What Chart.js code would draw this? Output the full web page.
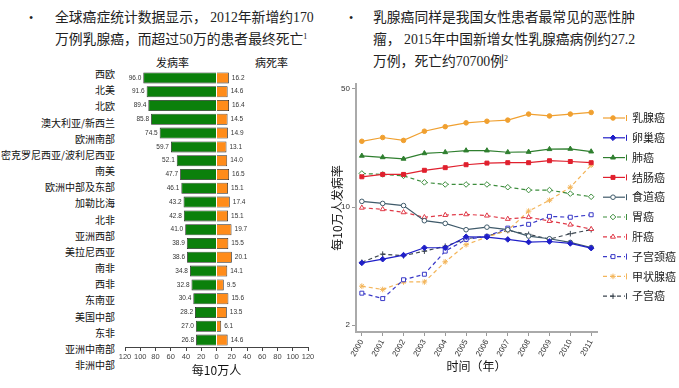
<!DOCTYPE html>
<html>
<head>
<meta charset="utf-8">
<script src="https://cdn.jsdelivr.net/npm/chart.js@4.4.0/dist/chart.umd.min.js"></script>
<style>
    body { margin: 0; background: #fff; width: 679px; height: 388px; overflow: hidden; position: relative;
           font-family: "Liberation Serif", "Noto Sans CJK SC", serif; color: #222; }
    .txt { position: absolute; font-size: 13.8px; line-height: 22px; white-space: nowrap; }
    .bullet { position: absolute; font-size: 12px; line-height: 22px; }
    sup { font-size: 8px; vertical-align: 5px; line-height: 0; }
    .region { position: absolute; right: 564px; font-family: "Noto Sans CJK SC", sans-serif; font-size: 10px;
              line-height: 12px; white-space: nowrap; color: #111; }
    .head { position: absolute; font-family: "Noto Sans CJK SC", sans-serif; font-size: 11px; line-height: 12px; color: #111; }
    .box { position: absolute; }
</style>
</head>
<body>
<div class="bullet" style="left:29px;top:7px;">•</div>
<div class="txt" style="left:55px;top:7px;">全球癌症统计数据显示， 2012年新增约170<br>万例乳腺癌，而超过50万的患者最终死亡<sup>1</sup></div>
<div class="bullet" style="left:349px;top:7px;">•</div>
<div class="txt" style="left:373px;top:7px;">乳腺癌同样是我国女性患者最常见的恶性肿<br>瘤， 2015年中国新增女性乳腺癌病例约27.2<br>万例，死亡约70700例<sup>2</sup></div>

<div class="head" style="left:156px;top:56px;">发病率</div>
<div class="head" style="left:255px;top:56px;">病死率</div>
<div id="regionCol"></div>

<div class="box" style="left:115px;top:66px;width:205px;height:316px;"><canvas id="barChart"></canvas></div>
<div class="box" style="left:320px;top:75px;width:359px;height:313px;"><canvas id="lineChart"></canvas></div>

<script>
// Left panel: incidence / mortality per 100k by region
const regions = ['西欧', '北美', '北欧', '澳大利亚/新西兰', '欧洲南部', '密克罗尼西亚/波利尼西亚', '南美',
    '欧洲中部及东部', '加勒比海', '北非', '亚洲西部', '美拉尼西亚', '南非', '西非', '东南亚', '美国中部',
    '东非', '亚洲中南部', '非洲中部'];
const incidence = [96.0, 91.6, 89.4, 85.8, 74.5, 59.7, 52.1, 47.7, 46.1, 43.2, 42.8, 41.0, 38.9, 38.6,
    34.8, 32.8, 30.4, 28.2, 27.0, 26.8];
const mortality = [16.2, 14.6, 16.4, 14.5, 14.9, 13.1, 14.0, 16.5, 15.1, 17.4, 15.1, 19.7, 15.5, 20.1,
    14.1, 9.5, 15.6, 13.5, 6.1, 14.6];
const barTicks = [-120, -100, -80, -60, -40, -20, 0, 20, 40, 60, 80, 100, 120];

// Right panel: incidence trend in China (log scale)
const years = [2000, 2001, 2002, 2003, 2004, 2005, 2006, 2007, 2008, 2009, 2010, 2011];
const logTicks = [2, 10, 50];
const breast = [24.5, 25.8, 24.8, 28.1, 29.9, 31.5, 32.2, 32.7, 35.5, 34.6, 35.5, 36.3];
const ovarian = [4.67, 4.91, 5.19, 5.74, 5.74, 6.67, 6.64, 6.43, 6.2, 6.25, 6.09, 5.71];
const lung = [20.1, 19.7, 19.3, 20.8, 21.1, 21.6, 21.6, 21.1, 21.2, 22.0, 22.1, 21.3];
const colorectal = [15.1, 15.6, 15.6, 16.5, 17.1, 17.8, 18.2, 18.3, 18.3, 18.8, 18.6, 18.3];
const esophageal = [10.8, 10.5, 10.2, 8.3, 8.0, 7.34, 7.6, 7.34, 6.73, 6.49, 6.17, 5.76];
const stomach = [15.8, 15.6, 15.3, 14.0, 13.6, 13.6, 13.6, 13.1, 12.6, 12.6, 12.0, 11.5];
const liver = [9.9, 9.7, 9.3, 8.7, 8.96, 9.05, 8.89, 8.5, 8.7, 8.26, 7.86, 7.4];
const cervical = [3.09, 2.87, 3.71, 4.0, 5.48, 6.43, 6.7, 7.5, 7.9, 8.8, 8.7, 9.0];
const thyroid = [3.4, 3.25, 3.6, 3.6, 4.74, 5.98, 6.64, 7.27, 9.46, 10.96, 13.1, 17.7];
const uterine = [4.71, 5.26, 5.15, 5.48, 5.86, 6.49, 6.73, 7.27, 6.89, 6.45, 6.95, 7.34];

const CJK = '"Noto Sans CJK SC", sans-serif';
const SANS = '"Liberation Sans", Arial, sans-serif';

// region names column (not aligned to bars in the original either)
const col = document.getElementById('regionCol');
regions.forEach((name, i) => {
    const d = document.createElement('div');
    d.className = 'region';
    d.style.top = (68 + i * 16.17) + 'px';
    d.textContent = name;
    col.appendChild(d);
});

const barLabels = {
    id: 'barLabels',
    afterDatasetsDraw(chart) {
        const ctx = chart.ctx;
        ctx.save();
        ctx.font = '6.5px ' + SANS;
        ctx.fillStyle = '#333';
        ctx.textBaseline = 'middle';
        ctx.textAlign = 'right';
        chart.getDatasetMeta(0).data.forEach((bar, i) => ctx.fillText(incidence[i].toFixed(1), bar.x - 2, bar.y));
        ctx.textAlign = 'left';
        chart.getDatasetMeta(1).data.forEach((bar, i) => ctx.fillText(mortality[i].toFixed(1), bar.x + 3, bar.y));
        ctx.restore();
    }
};

new Chart(document.getElementById('barChart'), {
    type: 'bar',
    data: {
        labels: incidence.map((v, i) => String(i)),
        datasets: [
            { label: '发病率', data: incidence.map(v => -v), backgroundColor: '#0b800b',
              borderColor: '#222', borderWidth: 0.8, barPercentage: 0.8, categoryPercentage: 1 },
            { label: '病死率', data: mortality, backgroundColor: '#ff8c1a',
              borderColor: '#222', borderWidth: 0.8, barPercentage: 0.8, categoryPercentage: 1 }
        ]
    },
    options: {
        indexAxis: 'y',
        responsive: true,
        maintainAspectRatio: false,
        animation: false,
        layout: { padding: { left: 10, right: 12, top: 5, bottom: 0 } },
        plugins: { legend: { display: false }, tooltip: { enabled: false } },
        scales: {
            y: { stacked: true, display: false },
            x: {
                stacked: true, min: -120, max: 120,
                afterBuildTicks: s => { s.ticks = barTicks.map(v => ({ value: v })); },
                afterFit: s => { s.height = 35; },
                ticks: { callback: v => String(Math.abs(v)), font: { size: 7.5, family: SANS }, color: '#444',
                         padding: 1, maxRotation: 0, autoSkip: false },
                grid: { drawOnChartArea: false, tickLength: 4, color: '#444' },
                border: { color: '#444', width: 1 },
                title: { display: true, text: '每10万人', font: { size: 12, family: CJK }, color: '#111',
                         padding: { top: 2, bottom: 4 } }
            }
        }
    },
    plugins: [barLabels]
});

function series(label, values, color, style, filled, dashed) {
    return {
        label: label,
        data: values.map((v, i) => ({ x: years[i], y: v })),
        borderColor: color,
        backgroundColor: color,
        borderWidth: 1.2,
        borderDash: dashed ? [4, 3] : [],
        pointStyle: style,
        pointRadius: style === 'circle' ? 2.3 : 2.8,
        pointBorderWidth: 1,
        pointBackgroundColor: filled ? color : '#fff',
        pointBorderColor: color,
        tension: 0
    };
}

const lineSets = [
    series('乳腺癌', breast, '#f0a030', 'circle', true, false),
    series('卵巢癌', ovarian, '#1f1fc8', 'rectRot', true, false),
    series('肺癌', lung, '#2f7f2f', 'triangle', true, false),
    series('结肠癌', colorectal, '#e0202e', 'rect', true, false),
    series('食道癌', esophageal, '#3f5a6a', 'circle', false, false),
    series('胃癌', stomach, '#3d8d3d', 'rectRot', false, true),
    series('肝癌', liver, '#e03a48', 'triangle', false, true),
    series('子宫颈癌', cervical, '#3a3ac8', 'rect', false, true),
    series('甲状腺癌', thyroid, '#f3b55a', 'star', true, true),
    series('子宫癌', uterine, '#3c4650', 'cross', true, true)
];

const sideLegend = {
    id: 'sideLegend',
    afterDraw(chart) {
        const ctx = chart.ctx;
        chart.data.datasets.forEach((ds, i) => {
            const y = 43 + i * 19.8;
            ctx.save();
            ctx.strokeStyle = ds.borderColor;
            ctx.lineWidth = 1.2;
            ctx.setLineDash(ds.borderDash);
            ctx.beginPath();
            ctx.moveTo(283, y);
            ctx.lineTo(305, y);
            ctx.stroke();
            ctx.setLineDash([]);
            ctx.lineWidth = 1;
            ctx.beginPath();
            ctx.moveTo(306.5, y - 3);
            ctx.lineTo(306.5, y + 3);
            ctx.stroke();
            ctx.fillStyle = ds.pointBackgroundColor;
            if (Chart.helpers && Chart.helpers.drawPoint) {
                Chart.helpers.drawPoint(ctx, { pointStyle: ds.pointStyle, radius: ds.pointRadius, borderWidth: 1, rotation: 0 }, 293, y);
            }
            ctx.fillStyle = '#222';
            ctx.font = '11px ' + CJK;
            ctx.textBaseline = 'middle';
            ctx.textAlign = 'left';
            ctx.fillText(ds.label, 312, y);
            ctx.restore();
        });
    }
};

new Chart(document.getElementById('lineChart'), {
    type: 'line',
    data: { datasets: lineSets },
    options: {
        responsive: true,
        maintainAspectRatio: false,
        animation: false,
        layout: { padding: { left: 0, right: 82, top: 9, bottom: 0 } },
        plugins: { legend: { display: false }, tooltip: { enabled: false } },
        scales: {
            x: {
                type: 'linear', min: 1999.72, max: 2011.28,
                afterBuildTicks: s => { s.ticks = years.map(v => ({ value: v })); },
                afterFit: s => { s.height = 56; },
                ticks: { callback: v => String(v), font: { size: 8, family: SANS }, color: '#333',
                         minRotation: 60, maxRotation: 60, autoSkip: false, padding: 2 },
                grid: { drawOnChartArea: false, tickLength: 4, color: '#999' },
                border: { color: '#aaa', width: 2 },
                title: { display: true, text: '时间（年）', font: { size: 12, family: CJK }, color: '#111',
                         padding: { top: 4, bottom: 14 } }
            },
            y: {
                type: 'logarithmic', min: 1.82, max: 53.5,
                afterBuildTicks: s => { s.ticks = logTicks.map(v => ({ value: v })); },
                afterFit: s => { s.width = 36; },
                ticks: { callback: v => String(v), font: { size: 8, family: SANS }, color: '#333', padding: 2 },
                grid: { drawOnChartArea: false, tickLength: 4, color: '#999' },
                border: { color: '#aaa', width: 2 },
                title: { display: true, text: '每10万人发病率', font: { size: 12, family: CJK }, color: '#111',
                         padding: { top: 10, bottom: 4 } }
            }
        }
    },
    plugins: [sideLegend]
});
</script>
</body>
</html>
